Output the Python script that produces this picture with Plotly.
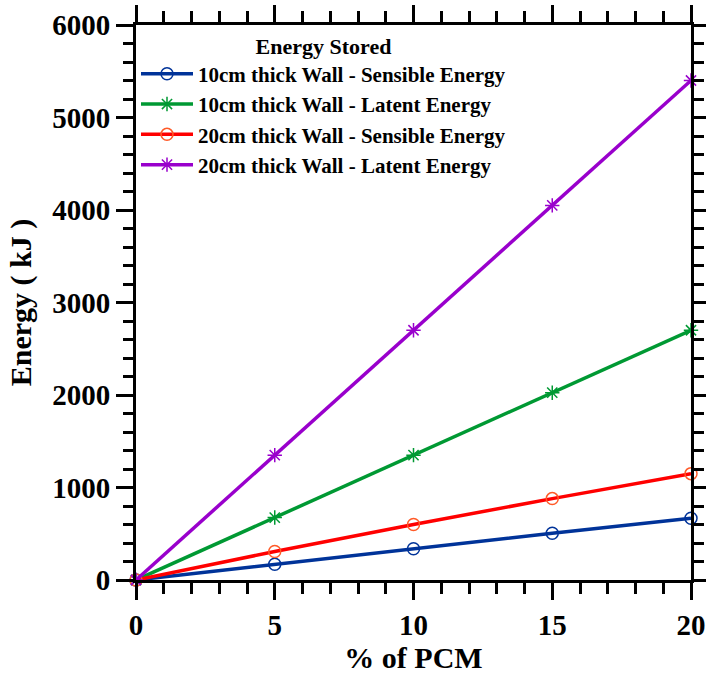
import plotly.graph_objects as go

# PCM content (%) and stored energy (kJ) for each wall configuration
pcm_percent = [0, 5, 10, 15, 20]
wall10_sensible = [0, 170, 338, 505, 667]
wall10_latent = [0, 675, 1350, 2025, 2700]
wall20_sensible = [0, 308, 600, 880, 1150]
wall20_latent = [0, 1350, 2700, 4050, 5400]

series = [
    ("10cm thick Wall - Sensible Energy", wall10_sensible, "#003399", "#003399", "circle-open"),
    ("10cm thick Wall - Latent Energy", wall10_latent, "#009933", "#009933", "asterisk-open"),
    ("20cm thick Wall - Sensible Energy", wall20_sensible, "#FF0000", "#FF5A28", "circle-open"),
    ("20cm thick Wall - Latent Energy", wall20_latent, "#9900CC", "#9900CC", "asterisk-open"),
]

FONT = "Liberation Serif"

fig = go.Figure()
for name, values, line_color, marker_color, symbol in series:
    fig.add_trace(go.Scatter(
        x=pcm_percent, y=values, name=name, mode="lines+markers",
        line=dict(color=line_color, width=3.5),
        marker=dict(symbol=symbol, size=12, color=marker_color,
                    line=dict(color=marker_color, width=1.5)),
        cliponaxis=False,
    ))

axis_common = dict(
    showline=True, linecolor="black", linewidth=3, mirror="ticks",
    ticks="outside", ticklen=17, tickwidth=3, tickcolor="black",
    showgrid=False, zeroline=False, automargin=False,
    tickfont=dict(family=FONT, size=29, color="black", weight="bold"),
)

fig.update_xaxes(
    range=[0, 20], tickvals=[0, 5, 10, 15, 20],
    minor=dict(ticks="outside", ticklen=11, tickwidth=3, tickcolor="black", dtick=1),
    title=dict(text="% of PCM", font=dict(family=FONT, size=30, color="black", weight="bold"),
               standoff=6),
    **axis_common,
)
fig.update_yaxes(
    range=[0, 6000], tickvals=[0, 1000, 2000, 3000, 4000, 5000, 6000],
    minor=dict(ticks="outside", ticklen=10, tickwidth=3, tickcolor="black", dtick=200),
    title=dict(text="Energy ( kJ )", font=dict(family=FONT, size=30, color="black", weight="bold"),
               standoff=12),
    **axis_common,
)

fig.update_layout(
    width=706, height=674,
    margin=dict(l=136, r=15, t=25, b=94),
    paper_bgcolor="white", plot_bgcolor="white",
    font=dict(family=FONT, color="black"),
    legend=dict(
        title=dict(text="Energy Stored", side="top center",
                   font=dict(family=FONT, size=22, color="black", weight="bold")),
        font=dict(family=FONT, size=21, color="black", weight="bold"),
        x=0.0, y=1.0, xanchor="left", yanchor="top",
        bgcolor="rgba(0,0,0,0)", itemwidth=52, tracegroupgap=0,
    ),
)

fig.write_html("out.html")
